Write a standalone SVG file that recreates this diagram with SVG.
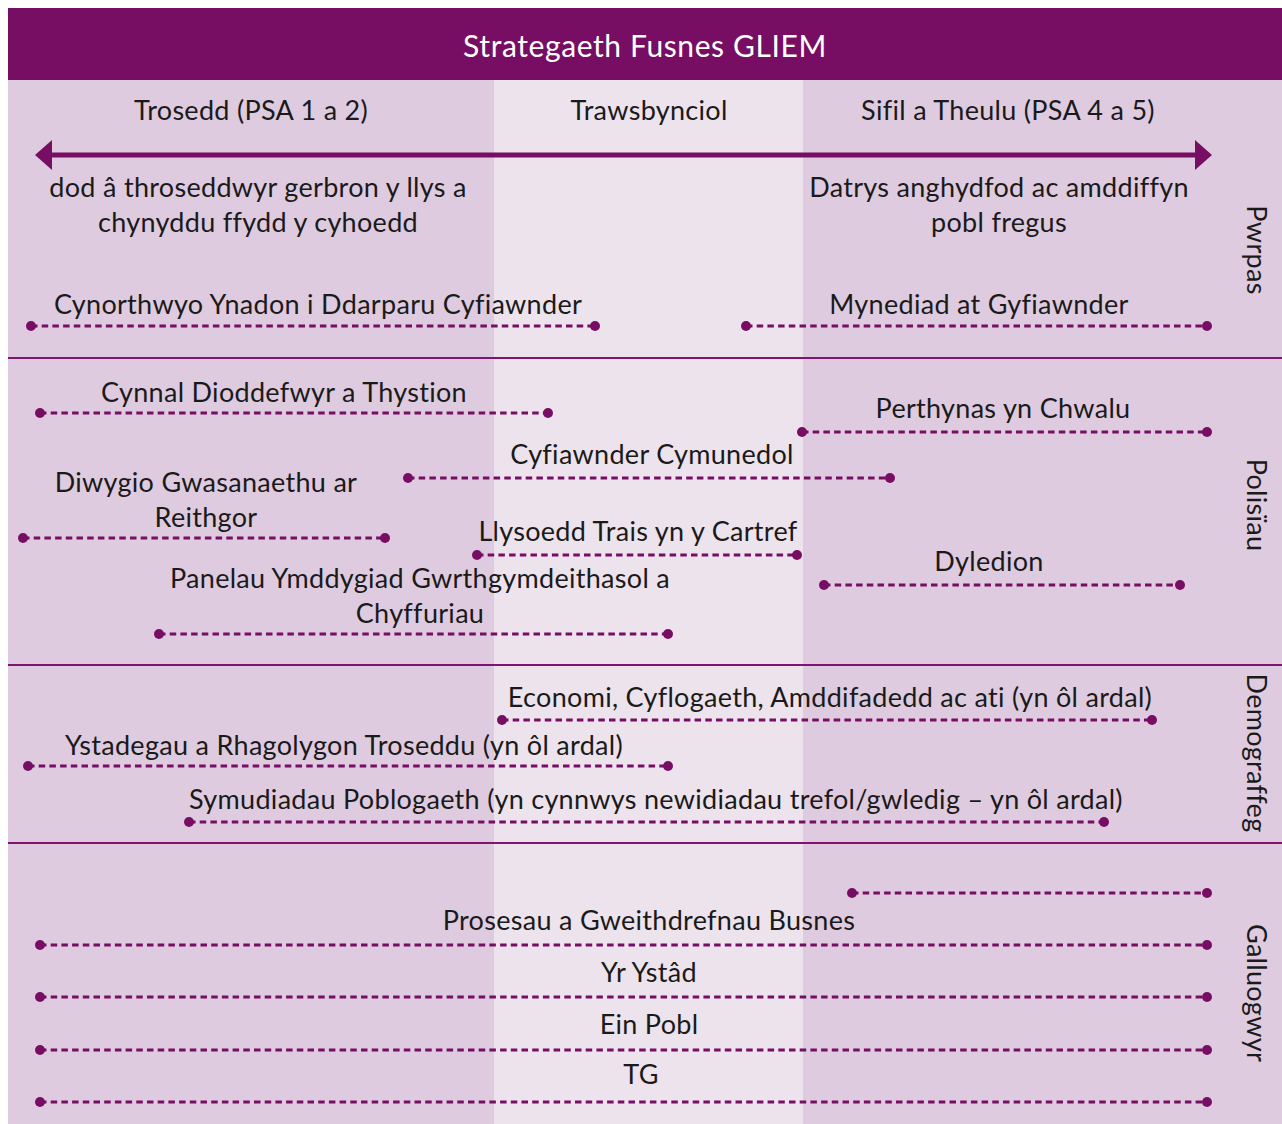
<svg xmlns="http://www.w3.org/2000/svg" width="1282" height="1124" viewBox="0 0 1282 1124">
<defs>
<style>
.t{font-family:Lato,"Open Sans","Liberation Sans",sans-serif;font-size:27px;letter-spacing:0.3px;fill:#1a1a1a;text-anchor:middle}
.v{font-family:Lato,"Open Sans","Liberation Sans",sans-serif;font-size:27px;letter-spacing:0.3px;fill:#1a1a1a;text-anchor:middle}
.d{stroke:#770E63;stroke-width:3;stroke-dasharray:6.5 4.2;fill:none}
.sep{stroke:#7E1470;stroke-width:2}
.dot{fill:#770E63}
</style>
<marker id="ah" viewBox="0 0 17 30" refX="0" refY="15" markerWidth="17" markerHeight="30" orient="auto-start-reverse" markerUnits="userSpaceOnUse"><path d="M0,0 L17,15 L0,30 z" fill="#770E63"/></marker>
</defs>
<rect x="0" y="0" width="1282" height="1124" fill="#ffffff"/>
<rect x="8" y="80" width="486" height="1044" fill="#DFCBDF"/>
<rect x="494" y="80" width="309" height="1044" fill="#EDE3ED"/>
<rect x="803" y="80" width="479" height="1044" fill="#DFCBDF"/>
<g id="header">
<rect x="8" y="8" width="1274" height="72" fill="#770E63"/>
<text x="645" y="57" class="t" style="fill:#ffffff;font-size:30px;letter-spacing:0.6px">Strategaeth Fusnes GLIEM</text>
</g>
<g id="separators">
<line x1="8" y1="358" x2="1282" y2="358" class="sep"/>
<line x1="8" y1="665" x2="1282" y2="665" class="sep"/>
<line x1="8" y1="843" x2="1282" y2="843" class="sep"/>
</g>
<g id="columns">
<text x="251" y="120" class="t">Trosedd (PSA 1 a 2)</text>
<text x="649" y="120" class="t">Trawsbynciol</text>
<text x="1008" y="120" class="t">Sifil a Theulu (PSA 4 a 5)</text>
</g>
<g id="axis">
<line x1="52" y1="155" x2="1195" y2="155" stroke="#770E63" stroke-width="5" marker-start="url(#ah)" marker-end="url(#ah)"/>
<text x="258" y="197" class="t">dod â throseddwyr gerbron y llys a</text>
<text x="258" y="232" class="t">chynyddu ffydd y cyhoedd</text>
<text x="999" y="197" class="t">Datrys anghydfod ac amddiffyn</text>
<text x="999" y="232" class="t">pobl fregus</text>
</g>
<g id="row-labels">
<text class="v" transform="translate(1247,250) rotate(90)">Pwrpas</text>
<text class="v" transform="translate(1247,505) rotate(90)">Polisïau</text>
<text class="v" transform="translate(1247,753) rotate(90)">Demograffeg</text>
<text class="v" transform="translate(1247,993) rotate(90)">Galluogwyr</text>
</g>
<g id="connectors">
<line x1="31" y1="326" x2="595" y2="326" class="d"/>
<line x1="746" y1="326" x2="1207" y2="326" class="d"/>
<line x1="40" y1="413" x2="548" y2="413" class="d"/>
<line x1="802" y1="432" x2="1207" y2="432" class="d"/>
<line x1="408" y1="478" x2="890" y2="478" class="d"/>
<line x1="23" y1="538" x2="385" y2="538" class="d"/>
<line x1="477" y1="555" x2="797" y2="555" class="d"/>
<line x1="824" y1="585" x2="1180" y2="585" class="d"/>
<line x1="159" y1="634" x2="668" y2="634" class="d"/>
<line x1="502" y1="720" x2="1152" y2="720" class="d"/>
<line x1="28" y1="766" x2="668" y2="766" class="d"/>
<line x1="189" y1="822" x2="1104" y2="822" class="d"/>
<line x1="852" y1="893" x2="1207" y2="893" class="d"/>
<line x1="40" y1="945" x2="1207" y2="945" class="d"/>
<line x1="40" y1="997" x2="1207" y2="997" class="d"/>
<line x1="40" y1="1050" x2="1207" y2="1050" class="d"/>
<line x1="40" y1="1102" x2="1207" y2="1102" class="d"/>
</g>
<g id="n-cynorthwyo"><circle cx="31" cy="326" r="5" class="dot"/><circle cx="595" cy="326" r="5" class="dot"/><text x="318" y="314" class="t">Cynorthwyo Ynadon i Ddarparu Cyfiawnder</text></g>
<g id="n-mynediad"><circle cx="746" cy="326" r="5" class="dot"/><circle cx="1207" cy="326" r="5" class="dot"/><text x="979" y="314" class="t">Mynediad at Gyfiawnder</text></g>
<g id="n-cynnal"><circle cx="40" cy="413" r="5" class="dot"/><circle cx="548" cy="413" r="5" class="dot"/><text x="284" y="402" class="t">Cynnal Dioddefwyr a Thystion</text></g>
<g id="n-perthynas"><circle cx="802" cy="432" r="5" class="dot"/><circle cx="1207" cy="432" r="5" class="dot"/><text x="1003" y="418" class="t">Perthynas yn Chwalu</text></g>
<g id="n-cymunedol"><circle cx="408" cy="478" r="5" class="dot"/><circle cx="890" cy="478" r="5" class="dot"/><text x="652" y="464" class="t">Cyfiawnder Cymunedol</text></g>
<g id="n-reithgor"><circle cx="23" cy="538" r="5" class="dot"/><circle cx="385" cy="538" r="5" class="dot"/><text x="206" y="492" class="t">Diwygio Gwasanaethu ar</text><text x="206" y="527" class="t">Reithgor</text></g>
<g id="n-llysoedd"><circle cx="477" cy="555" r="5" class="dot"/><circle cx="797" cy="555" r="5" class="dot"/><text x="638" y="541" class="t">Llysoedd Trais yn y Cartref</text></g>
<g id="n-dyledion"><circle cx="824" cy="585" r="5" class="dot"/><circle cx="1180" cy="585" r="5" class="dot"/><text x="989" y="571" class="t">Dyledion</text></g>
<g id="n-panelau"><circle cx="159" cy="634" r="5" class="dot"/><circle cx="668" cy="634" r="5" class="dot"/><text x="420" y="588" class="t">Panelau Ymddygiad Gwrthgymdeithasol a</text><text x="420" y="623" class="t">Chyffuriau</text></g>
<g id="n-economi"><circle cx="502" cy="720" r="5" class="dot"/><circle cx="1152" cy="720" r="5" class="dot"/><text x="830" y="707" class="t">Economi, Cyflogaeth, Amddifadedd ac ati (yn ôl ardal)</text></g>
<g id="n-ystadegau"><circle cx="28" cy="766" r="5" class="dot"/><circle cx="668" cy="766" r="5" class="dot"/><text x="344" y="755" class="t">Ystadegau a Rhagolygon Troseddu (yn ôl ardal)</text></g>
<g id="n-symudiadau"><circle cx="189" cy="822" r="5" class="dot"/><circle cx="1104" cy="822" r="5" class="dot"/><text x="656" y="809" class="t">Symudiadau Poblogaeth (yn cynnwys newidiadau trefol/gwledig – yn ôl ardal)</text></g>
<g id="n-blank"><circle cx="852" cy="893" r="5" class="dot"/><circle cx="1207" cy="893" r="5" class="dot"/></g>
<g id="n-prosesau"><circle cx="40" cy="945" r="5" class="dot"/><circle cx="1207" cy="945" r="5" class="dot"/><text x="649" y="930" class="t">Prosesau a Gweithdrefnau Busnes</text></g>
<g id="n-ystad"><circle cx="40" cy="997" r="5" class="dot"/><circle cx="1207" cy="997" r="5" class="dot"/><text x="649" y="982" class="t">Yr Ystâd</text></g>
<g id="n-pobl"><circle cx="40" cy="1050" r="5" class="dot"/><circle cx="1207" cy="1050" r="5" class="dot"/><text x="649" y="1034" class="t">Ein Pobl</text></g>
<g id="n-tg"><circle cx="40" cy="1102" r="5" class="dot"/><circle cx="1207" cy="1102" r="5" class="dot"/><text x="641" y="1084" class="t">TG</text></g>
</svg>
